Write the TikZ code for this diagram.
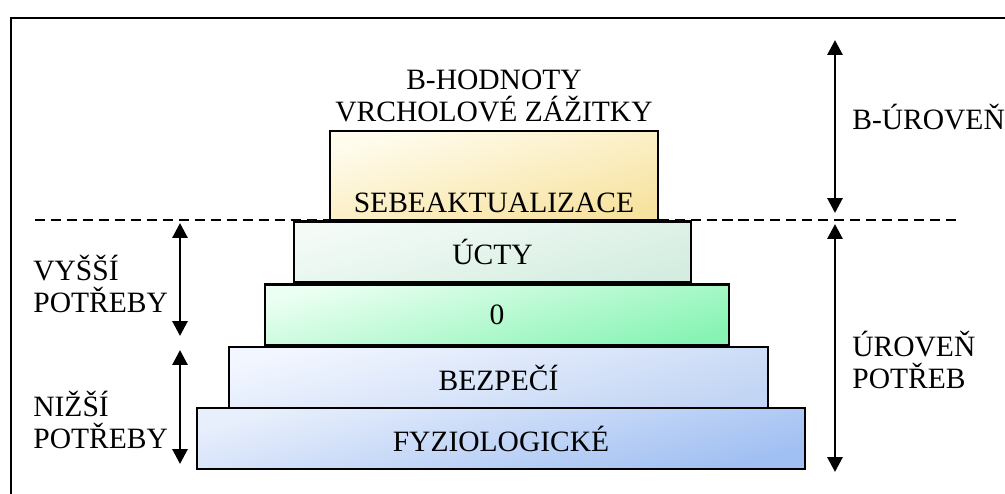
\documentclass[tikz,border=0pt]{standalone}
\usepackage{fontspec}
\setmainfont{Liberation Serif}
\usetikzlibrary{arrows.meta,positioning}

\definecolor{sebeTop}{HTML}{FFFCEE}
\definecolor{sebeBot}{HTML}{F7E3A0}
\definecolor{uctyTop}{HTML}{F4FBF7}
\definecolor{uctyBot}{HTML}{D4EDE0}
\definecolor{nulaTop}{HTML}{EBFFF2}
\definecolor{nulaBot}{HTML}{88F4B4}
\definecolor{bezTop}{HTML}{F2F6FF}
\definecolor{bezBot}{HTML}{C2D5F4}
\definecolor{fyzTop}{HTML}{E8EFFC}
\definecolor{fyzBot}{HTML}{A0BFF2}

\tikzset{
    stupen/.style 2 args={draw=black, line width=1.2pt, top color=#1, bottom color=#2,
        shading angle=15, minimum height=1.22cm, inner sep=0pt},
    sipka/.style={{Triangle[width=8.5pt,length=8.5pt]}-{Triangle[width=8.5pt,length=8.5pt]}, line width=1.7pt},
    popis/.style={align=left, inner sep=0pt, anchor=west},
}

\begin{document}
\begin{tikzpicture}[x=0.02cm, y=-0.02cm, font=\fontsize{16.8}{18.2}\selectfont]
    \useasboundingbox (0,0) rectangle (1005,494);

    % ramecek a predel
    \draw[line width=1.3pt] (11,494) -- (11,18) -- (1005,18);
    \draw[dashed, line width=1.2pt, dash pattern=on 5.7pt off 3.4pt] (35,220) -- (957,220);

    % pyramida
    \node[stupen={sebeTop}{sebeBot}, minimum width=6.56cm, minimum height=1.78cm] (sebe) at (494,175.5) {};
    \node[stupen={uctyTop}{uctyBot}, minimum width=7.94cm] (ucty) at (492.5,252) {ÚCTY};
    \node[stupen={nulaTop}{nulaBot}, minimum width=9.28cm] (nula) at (497,315) {0};
    \node[stupen={bezTop}{bezBot}, minimum width=10.78cm] (bezpeci) at (498.5,377.5) {BEZPEČÍ};
    \node[stupen={fyzTop}{fyzBot}, minimum width=12.16cm] (fyzio) at (501,438.5) {FYZIOLOGICKÉ};
    \node[above=0.16cm of sebe.south, inner sep=0pt] (sebetext) {SEBEAKTUALIZACE};
    \node[align=center, inner sep=0pt] (hodnoty) at (494,96) {B-HODNOTY\\VRCHOLOVÉ ZÁŽITKY};

    % popisky
    \node[popis] (vyssi) at (33,284) {VYŠŠÍ\\POTŘEBY};
    \node[popis] (nizsi) at (33,420) {NIŽŠÍ\\POTŘEBY};
    \node[popis] (buroven) at (852,117) {B-ÚROVEŇ};
    \node[popis] (uroven) at (852,360) {ÚROVEŇ\\POTŘEB};

    % sipky
    \coordinate (vA) at (180,223);
    \coordinate (vB) at (180,336);
    \coordinate (nA) at (180,350);
    \coordinate (nB) at (180,464);
    \coordinate (bA) at (835,40);
    \coordinate (bB) at (835,213);
    \coordinate (pA) at (835,224);
    \coordinate (pB) at (835,472);
    \draw[sipka] (vA) -- (vB);
    \draw[sipka] (nA) -- (nB);
    \draw[sipka] (bA) -- (bB);
    \draw[sipka] (pA) -- (pB);
\end{tikzpicture}
\end{document}
